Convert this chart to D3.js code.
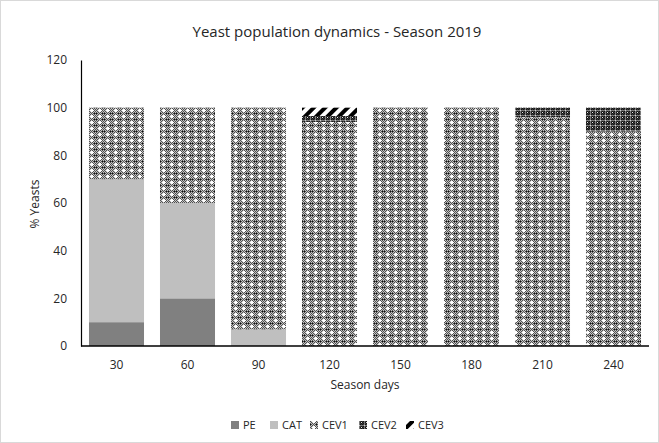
<!DOCTYPE html>
<html>
<head>
<meta charset="utf-8">
<script src="https://cdn.jsdelivr.net/npm/d3@7"></script>
<style>
  html, body { margin: 0; padding: 0; background: #fff; }
  svg { display: block; }
  text { font-family: "Open Sans", "Liberation Sans", sans-serif; fill: #262626; }
</style>
</head>
<body>
<svg id="chart" width="659" height="443"></svg>
<script>
// Sampling days and the share (%) of each yeast group at every sampling
const days = ["30", "60", "90", "120", "150", "180", "210", "240"];
const seriesNames = ["PE", "CAT", "CEV1", "CEV2", "CEV3"];
const PE   = [10, 20, 0, 0, 0, 0, 0, 0];
const CAT  = [60, 40, 7, 0, 0, 0, 0, 0];
const CEV1 = [30, 40, 93, 94, 100, 100, 96, 90];
const CEV2 = [0, 0, 0, 2.5, 0, 0, 4, 10];
const CEV3 = [0, 0, 0, 3.5, 0, 0, 0, 0];
const yTicks = [0, 20, 40, 60, 80, 100, 120];

const rows = days.map((d, i) => ({
  day: d, PE: PE[i], CAT: CAT[i], CEV1: CEV1[i], CEV2: CEV2[i], CEV3: CEV3[i]
}));

const W = 659, H = 443;
const margin = { top: 60, right: 10, bottom: 97, left: 81 };
const svg = d3.select("#chart");

// Fill patterns for the CEV groups
const defs = svg.append("defs");

function pixelPattern(id, size, bg, pixels) {
  const p = defs.append("pattern")
    .attr("id", id).attr("patternUnits", "userSpaceOnUse")
    .attr("width", size[0]).attr("height", size[1]);
  p.append("rect").attr("width", size[0]).attr("height", size[1]).attr("fill", bg);
  pixels.forEach(([x, y, w, h, c]) => {
    p.append("rect").attr("x", x).attr("y", y).attr("width", w).attr("height", h)
      .attr("fill", c).attr("shape-rendering", "crispEdges");
  });
}

// CEV1: dithered grey with rows of small white dashes
(function () {
  const px = [];
  for (let y = 0; y < 6; y++) {
    for (let x = 0; x < 8; x++) {
      if ((x + y) % 2 === 0) px.push([x, y, 1, 1, "#505050"]);
      else px.push([x, y, 1, 1, "#c4c4c4"]);
    }
  }
  px.push([2, 2, 4, 1, "#ffffff"]);
  px.push([3, 1, 2, 1, "#ffffff"]);
  px.push([3, 3, 2, 1, "#ffffff"]);
  px.push([0, 5, 1, 1, "#111111"]);
  px.push([6, 5, 1, 1, "#111111"]);
  pixelPattern("pCEV1", [8, 6], "#8a8a8a", px);
})();

// CEV2: dark lattice with light dots
(function () {
  const px = [];
  for (let y = 0; y < 5; y++) {
    for (let x = 0; x < 5; x++) {
      const c = (x === 0 || y === 0) ? "#7a7a7a" : ((x + y) % 2 ? "#141414" : "#3a3a3a");
      px.push([x, y, 1, 1, c]);
    }
  }
  px.push([2, 2, 1, 1, "#e8e8e8"]);
  px.push([0, 0, 1, 1, "#d0d0d0"]);
  pixelPattern("pCEV2", [5, 5], "#333333", px);
})();

// CEV3: wide black diagonal stripes
(function () {
  const p = defs.append("pattern")
    .attr("id", "pCEV3").attr("patternUnits", "userSpaceOnUse")
    .attr("width", 8).attr("height", 8)
    .attr("patternTransform", "rotate(45)");
  p.append("rect").attr("width", 8).attr("height", 8).attr("fill", "#ffffff");
  p.append("rect").attr("width", 4).attr("height", 8).attr("fill", "#000000");
})();

const fills = {
  PE: "#808080",
  CAT: "#bfbfbf",
  CEV1: "url(#pCEV1)",
  CEV2: "url(#pCEV2)",
  CEV3: "url(#pCEV3)"
};

// Outer chart frame
svg.append("rect")
  .attr("x", 0.5).attr("y", 0.5).attr("width", W - 1).attr("height", H - 1)
  .attr("fill", "none").attr("stroke", "#d9d9d9");

const x = d3.scaleBand().domain(days)
  .range([margin.left, W - margin.right]).paddingInner(0.225).paddingOuter(0.1125);
const y = d3.scaleLinear().domain([0, 120]).range([H - margin.bottom, margin.top]);

const stack = d3.stack().keys(seriesNames)(rows);

svg.append("g").selectAll("g")
  .data(stack).join("g")
  .attr("fill", d => fills[d.key])
  .selectAll("rect")
  .data(d => d.filter(s => s[1] - s[0] > 0))
  .join("rect")
  .attr("x", d => x(d.data.day))
  .attr("width", x.bandwidth())
  .attr("y", d => y(d[1]))
  .attr("height", d => y(d[0]) - y(d[1]));

// Y axis
const yAxis = svg.append("g")
  .attr("transform", `translate(${margin.left},0)`)
  .call(d3.axisLeft(y).tickValues(yTicks).tickSize(0).tickPadding(14));
yAxis.select(".domain").attr("stroke", "#000").attr("stroke-width", 1.2);
yAxis.selectAll("text").attr("font-size", 12).attr("fill", "#262626")
  .attr("font-family", "'Open Sans', sans-serif");

// X axis
const xAxis = svg.append("g")
  .attr("transform", `translate(0,${H - margin.bottom})`)
  .call(d3.axisBottom(x).tickSize(0).tickPadding(14));
xAxis.select(".domain").attr("stroke", "#000").attr("stroke-width", 1.5)
  .attr("d", `M${margin.left},0H${W - margin.right}`);
xAxis.selectAll("text").attr("font-size", 12).attr("fill", "#262626")
  .attr("font-family", "'Open Sans', sans-serif");

// Titles
svg.append("text")
  .attr("x", 337).attr("y", 37).attr("text-anchor", "middle")
  .attr("font-size", 15).text("Yeast population dynamics - Season 2019");

svg.append("text")
  .attr("x", 365).attr("y", 389).attr("text-anchor", "middle")
  .attr("font-size", 12).text("Season days");

svg.append("text")
  .attr("transform", "translate(39,204) rotate(-90)")
  .attr("text-anchor", "middle")
  .attr("font-size", 12).text("% Yeasts");

// Legend
const legendX = [231, 270, 310, 359, 406];
const legend = svg.append("g").attr("transform", "translate(0,425)");
seriesNames.forEach((name, i) => {
  const g = legend.append("g").attr("transform", `translate(${legendX[i]},0)`);
  g.append("rect").attr("x", 0).attr("y", -4).attr("width", 8).attr("height", 8)
    .attr("fill", fills[name]);
  g.append("text").attr("x", 12).attr("y", 4).attr("font-size", 11).text(name);
});
</script>
</body>
</html>
